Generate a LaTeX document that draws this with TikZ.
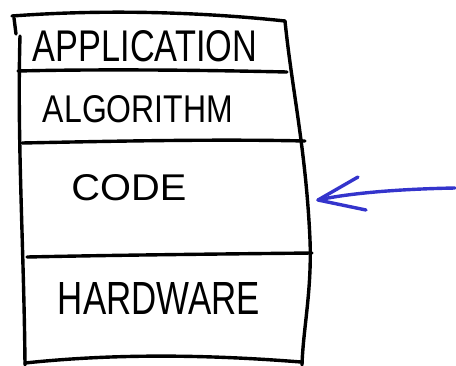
\documentclass[tikz,border=0pt]{standalone}
\usepackage{fontspec}
\setmainfont{Liberation Sans}
\usepackage{graphicx}
\definecolor{penblue}{RGB}{52,52,204}
% text squeezed into a given width and cap height, like hand lettering
\newcommand{\handtext}[3]{\resizebox{#1}{#2}{#3}}
\tikzset{
  pen/.style={line width=3.4pt, line cap=round, line join=round, black},
  bluepen/.style={line width=3.4pt, line cap=round, line join=round, penblue},
  lbl/.style={inner sep=0pt, anchor=center}
}
\begin{document}
\begin{tikzpicture}[x=1pt, y=-1pt]
\useasboundingbox (0,0) rectangle (456,365);

% outer frame
\draw[pen] (12,16) .. controls (120,8) and (220,14) .. (285,21);
\draw[pen] (14,18) -- (16,34);
\draw[pen] (20,36) .. controls (17,140) and (24,250) .. (25,365);
\draw[pen] (285,21) .. controls (292,90) and (306,150) .. (310,240)
           .. controls (312,290) and (303,330) .. (302,365);
\draw[pen] (25,363) .. controls (110,354) and (200,354) .. (301,362);

% dividers between the layers
\draw[pen] (18,71) .. controls (100,69) and (200,70) .. (287,72);
\draw[pen] (22,143) .. controls (120,141) and (220,139) .. (305,141);
\draw[pen] (27,257) .. controls (120,255) and (220,254) .. (312,253);

% layer labels
\node[lbl] (app)  at (145,46)  {\handtext{224pt}{31pt}{APPLICATION}};
\node[lbl] (alg)  at (138,109) {\handtext{190pt}{27pt}{ALGORITHM}};
\node[lbl] (code) at (129,188) {\handtext{115pt}{26pt}{CODE}};
\node[lbl] (hw)   at (159,298) {\handtext{202pt}{32pt}{HARDWARE}};

% pointer at the code layer
\coordinate (tail) at (455,188);
\coordinate (tip) at (318,200);
\coordinate (barbA) at (358,177);
\coordinate (barbB) at (366,210);
\draw[bluepen] (tail) .. controls (400,189) and (350,193) .. (tip);
\draw[bluepen] (barbA) -- (tip) -- (barbB);
\end{tikzpicture}
\end{document}
